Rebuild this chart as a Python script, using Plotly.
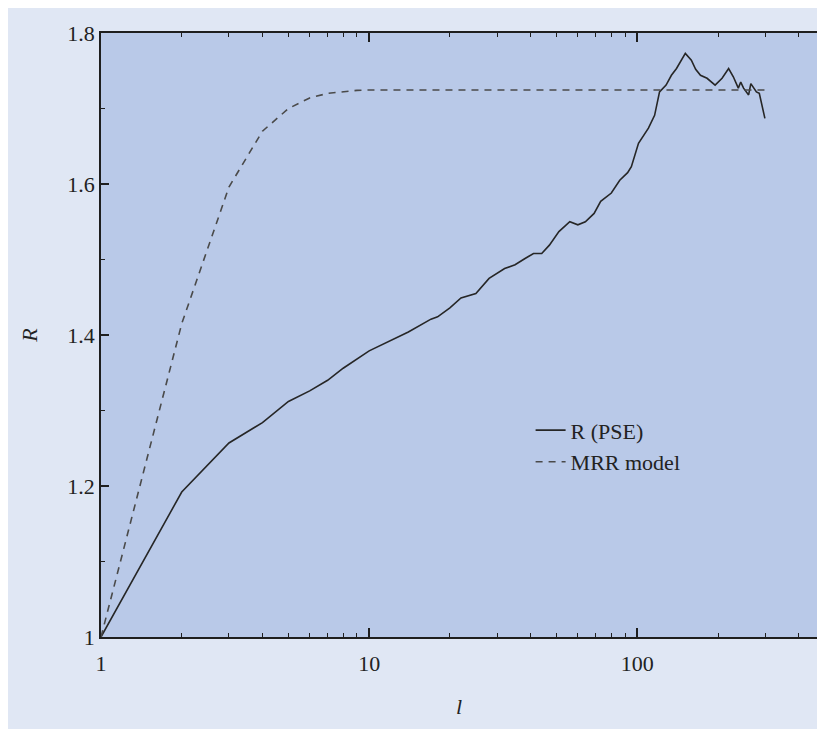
import plotly.graph_objects as go

# ---- data ----
l_pse = [1, 2, 3, 4, 5, 6, 7, 8, 10, 12, 14, 17, 18, 20, 22, 25, 28, 32, 35,
         38, 41, 44, 47, 51, 56, 60, 64, 69, 73, 80, 86, 92, 95, 101, 110,
         116, 121, 128, 134, 140, 146, 151, 159, 165, 172, 182, 195, 207,
         219, 228, 238, 243, 249, 255, 260, 265, 270, 278, 285, 292, 299]
r_pse = [1.000, 1.192, 1.257, 1.284, 1.312, 1.326, 1.340, 1.356, 1.379,
         1.392, 1.404, 1.421, 1.424, 1.436, 1.449, 1.455, 1.475, 1.488,
         1.493, 1.501, 1.508, 1.508, 1.519, 1.537, 1.550, 1.546, 1.550,
         1.561, 1.577, 1.588, 1.605, 1.615, 1.623, 1.654, 1.674, 1.691,
         1.722, 1.731, 1.744, 1.753, 1.764, 1.773, 1.764, 1.752, 1.744,
         1.740, 1.731, 1.740, 1.753, 1.742, 1.727, 1.735, 1.727, 1.722,
         1.718, 1.733, 1.728, 1.722, 1.720, 1.705, 1.687]

l_mrr = [1, 2, 3, 4, 5, 6, 7, 8, 9, 10, 20, 50, 100, 200, 300]
r_mrr = [1.000, 1.415, 1.596, 1.670, 1.700, 1.714, 1.720, 1.722, 1.724,
         1.7245, 1.7245, 1.7245, 1.7245, 1.7245, 1.7245]

x_major = [1, 10, 100]
x_major_text = ["1", "10", "100"]
x_minor = [2, 3, 4, 5, 6, 7, 8, 9, 20, 30, 40, 50, 60, 70, 80, 90, 200, 300, 400]
y_major = [1.0, 1.2, 1.4, 1.6, 1.8]
y_major_text = ["1", "1.2", "1.4", "1.6", "1.8"]
y_minor = [1.1, 1.3, 1.5, 1.7]

# ---- figure ----
# page offset of 8px at left/top (white strip), figure fills the rest
W, H = 809, 721
ML, MR, MT, MB = 93, 0, 25, 92

AX = "#1e1e1e"
FONT = "Liberation Serif"

fig = go.Figure()
fig.add_trace(go.Scatter(x=l_pse, y=r_pse, mode="lines", name="R (PSE)",
                         line=dict(color="#262626", width=1.6)))
fig.add_trace(go.Scatter(x=l_mrr, y=r_mrr, mode="lines", name="MRR model",
                         line=dict(color="#4a4a4a", width=1.6, dash="7px,6px")))

fig.update_layout(
    width=W, height=H,
    margin=dict(l=ML, r=MR, t=MT, b=MB, pad=0),
    paper_bgcolor="#e0e7f4",
    plot_bgcolor="#b9c9e8",
    font=dict(family=FONT, size=22, color="#222222"),
    showlegend=True,
    legend=dict(x=0.600, y=0.377, xanchor="left", yanchor="top",
                bgcolor="rgba(0,0,0,0)", font=dict(size=22, color="#222222"),
                tracegroupgap=0, itemwidth=30),
    xaxis=dict(
        type="log", range=[0, 2.670],
        showgrid=False, zeroline=False,
        showline=True, linecolor=AX, linewidth=1.6, mirror="ticks",
        ticks="inside", ticklen=9, tickwidth=1.5, tickcolor=AX,
        tickvals=x_major, ticktext=x_major_text,
        ticklabelstandoff=6,
        minor=dict(tickvals=x_minor, ticks="inside", ticklen=4,
                   tickwidth=1.3, tickcolor=AX, showgrid=False),
        title=dict(text="<i>l</i>", font=dict(size=22), standoff=23),
        tickfont=dict(size=22),
    ),
    yaxis=dict(
        range=[1.0, 1.8],
        showgrid=False, zeroline=False,
        showline=True, linecolor=AX, linewidth=1.6,
        ticks="inside", ticklen=8, tickwidth=1.5, tickcolor=AX,
        tickvals=y_major, ticktext=y_major_text,
        minor=dict(tickvals=y_minor, ticks="inside", ticklen=4,
                   tickwidth=1.3, tickcolor=AX, showgrid=False),
        title=dict(text="<i>R</i>", font=dict(size=22), standoff=24),
        tickfont=dict(size=22),
    ),
)

fig.write_html(
    "out.html",
    post_script="document.body.style.margin='8px 0px 0px 8px';"
                "document.documentElement.style.overflow='hidden';",
)
